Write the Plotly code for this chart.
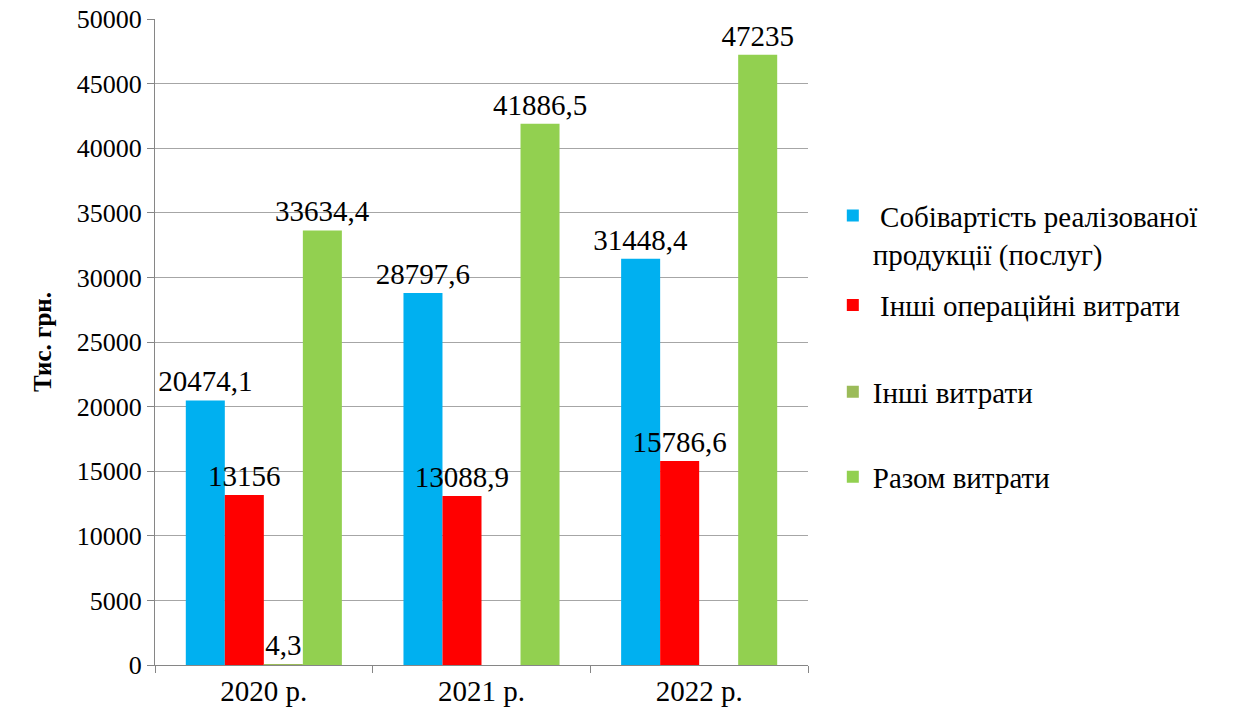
import plotly.graph_objects as go

categories = ["2020 р.", "2021 р.", "2022 р."]
series_names = [
    " Собівартість реалізованої<br>продукції (послуг)",
    " Інші операційні витрати",
    "Інші витрати",
    "Разом витрати",
]
sobivartist = [20474.1, 28797.6, 31448.4]
inshi_operatsiini = [13156, 13088.9, 15786.6]
inshi_vytraty = [4.3, None, None]
razom = [33634.4, 41886.5, 47235]
y_ticks = [0, 5000, 10000, 15000, 20000, 25000, 30000, 35000, 40000, 45000, 50000]

colors = ["#00B0F0", "#FF0000", "#9BBB59", "#92D050"]
legend_ys = [0.735, 0.557, 0.4226, 0.291]
FONT = "Liberation Serif"


def fmt(v):
    if v is None:
        return ""
    if float(v).is_integer():
        return str(int(v))
    return ("%g" % v).replace(".", ",")


def mkfont(size):
    return dict(family=FONT, size=size, color="#000000")


fig = go.Figure()
all_series = [sobivartist, inshi_operatsiini, inshi_vytraty, razom]
for i, (name, vals) in enumerate(zip(series_names, all_series)):
    fig.add_trace(go.Bar(
        x=categories, y=vals, name=name,
        marker=dict(color=colors[i], line=dict(width=0)),
        text=[fmt(v) for v in vals],
        textposition="outside",
        textfont=mkfont(29),
        constraintext="none",
        cliponaxis=False,
        showlegend=True,
        legend="legend" if i == 0 else "legend%d" % (i + 1),
    ))

layout_legends = {}
for i in range(4):
    key = "legend" if i == 0 else "legend%d" % (i + 1)
    layout_legends[key] = dict(
        x=1.038, xanchor="left",
        y=legend_ys[i], yanchor="middle" if i else "top",
        font=mkfont(29),
        bgcolor="rgba(0,0,0,0)", borderwidth=0,
        valign="top",
    )

fig.update_layout(
    template="none",
    width=1232, height=706,
    margin=dict(l=147, r=432, t=11, b=49, autoexpand=False),
    paper_bgcolor="#FFFFFF", plot_bgcolor="#FFFFFF",
    barmode="group", bargap=0.283, bargroupgap=0,
    font=mkfont(28),
    showlegend=True,
    **layout_legends,
)
fig.update_yaxes(
    range=[0, 50000], tickvals=y_ticks, tickformat="d",
    tickfont=mkfont(26),
    showgrid=True, gridcolor="#A6A6A6", gridwidth=1,
    showline=True, linecolor="#868686", linewidth=1,
    ticks="outside", ticklen=7, tickcolor="#868686",
    zeroline=False, automargin=False, ticklabeloverflow="allow",
    title=dict(text="<b>Тис. грн.</b>", font=mkfont(25), standoff=18),
)
fig.update_xaxes(
    tickfont=mkfont(29),
    showline=True, linecolor="#868686", linewidth=1,
    ticks="outside", ticklen=7, tickcolor="#868686", tickson="boundaries",
    showgrid=False, automargin=False, ticklabeloverflow="allow",
)

fig.write_html("out.html")
